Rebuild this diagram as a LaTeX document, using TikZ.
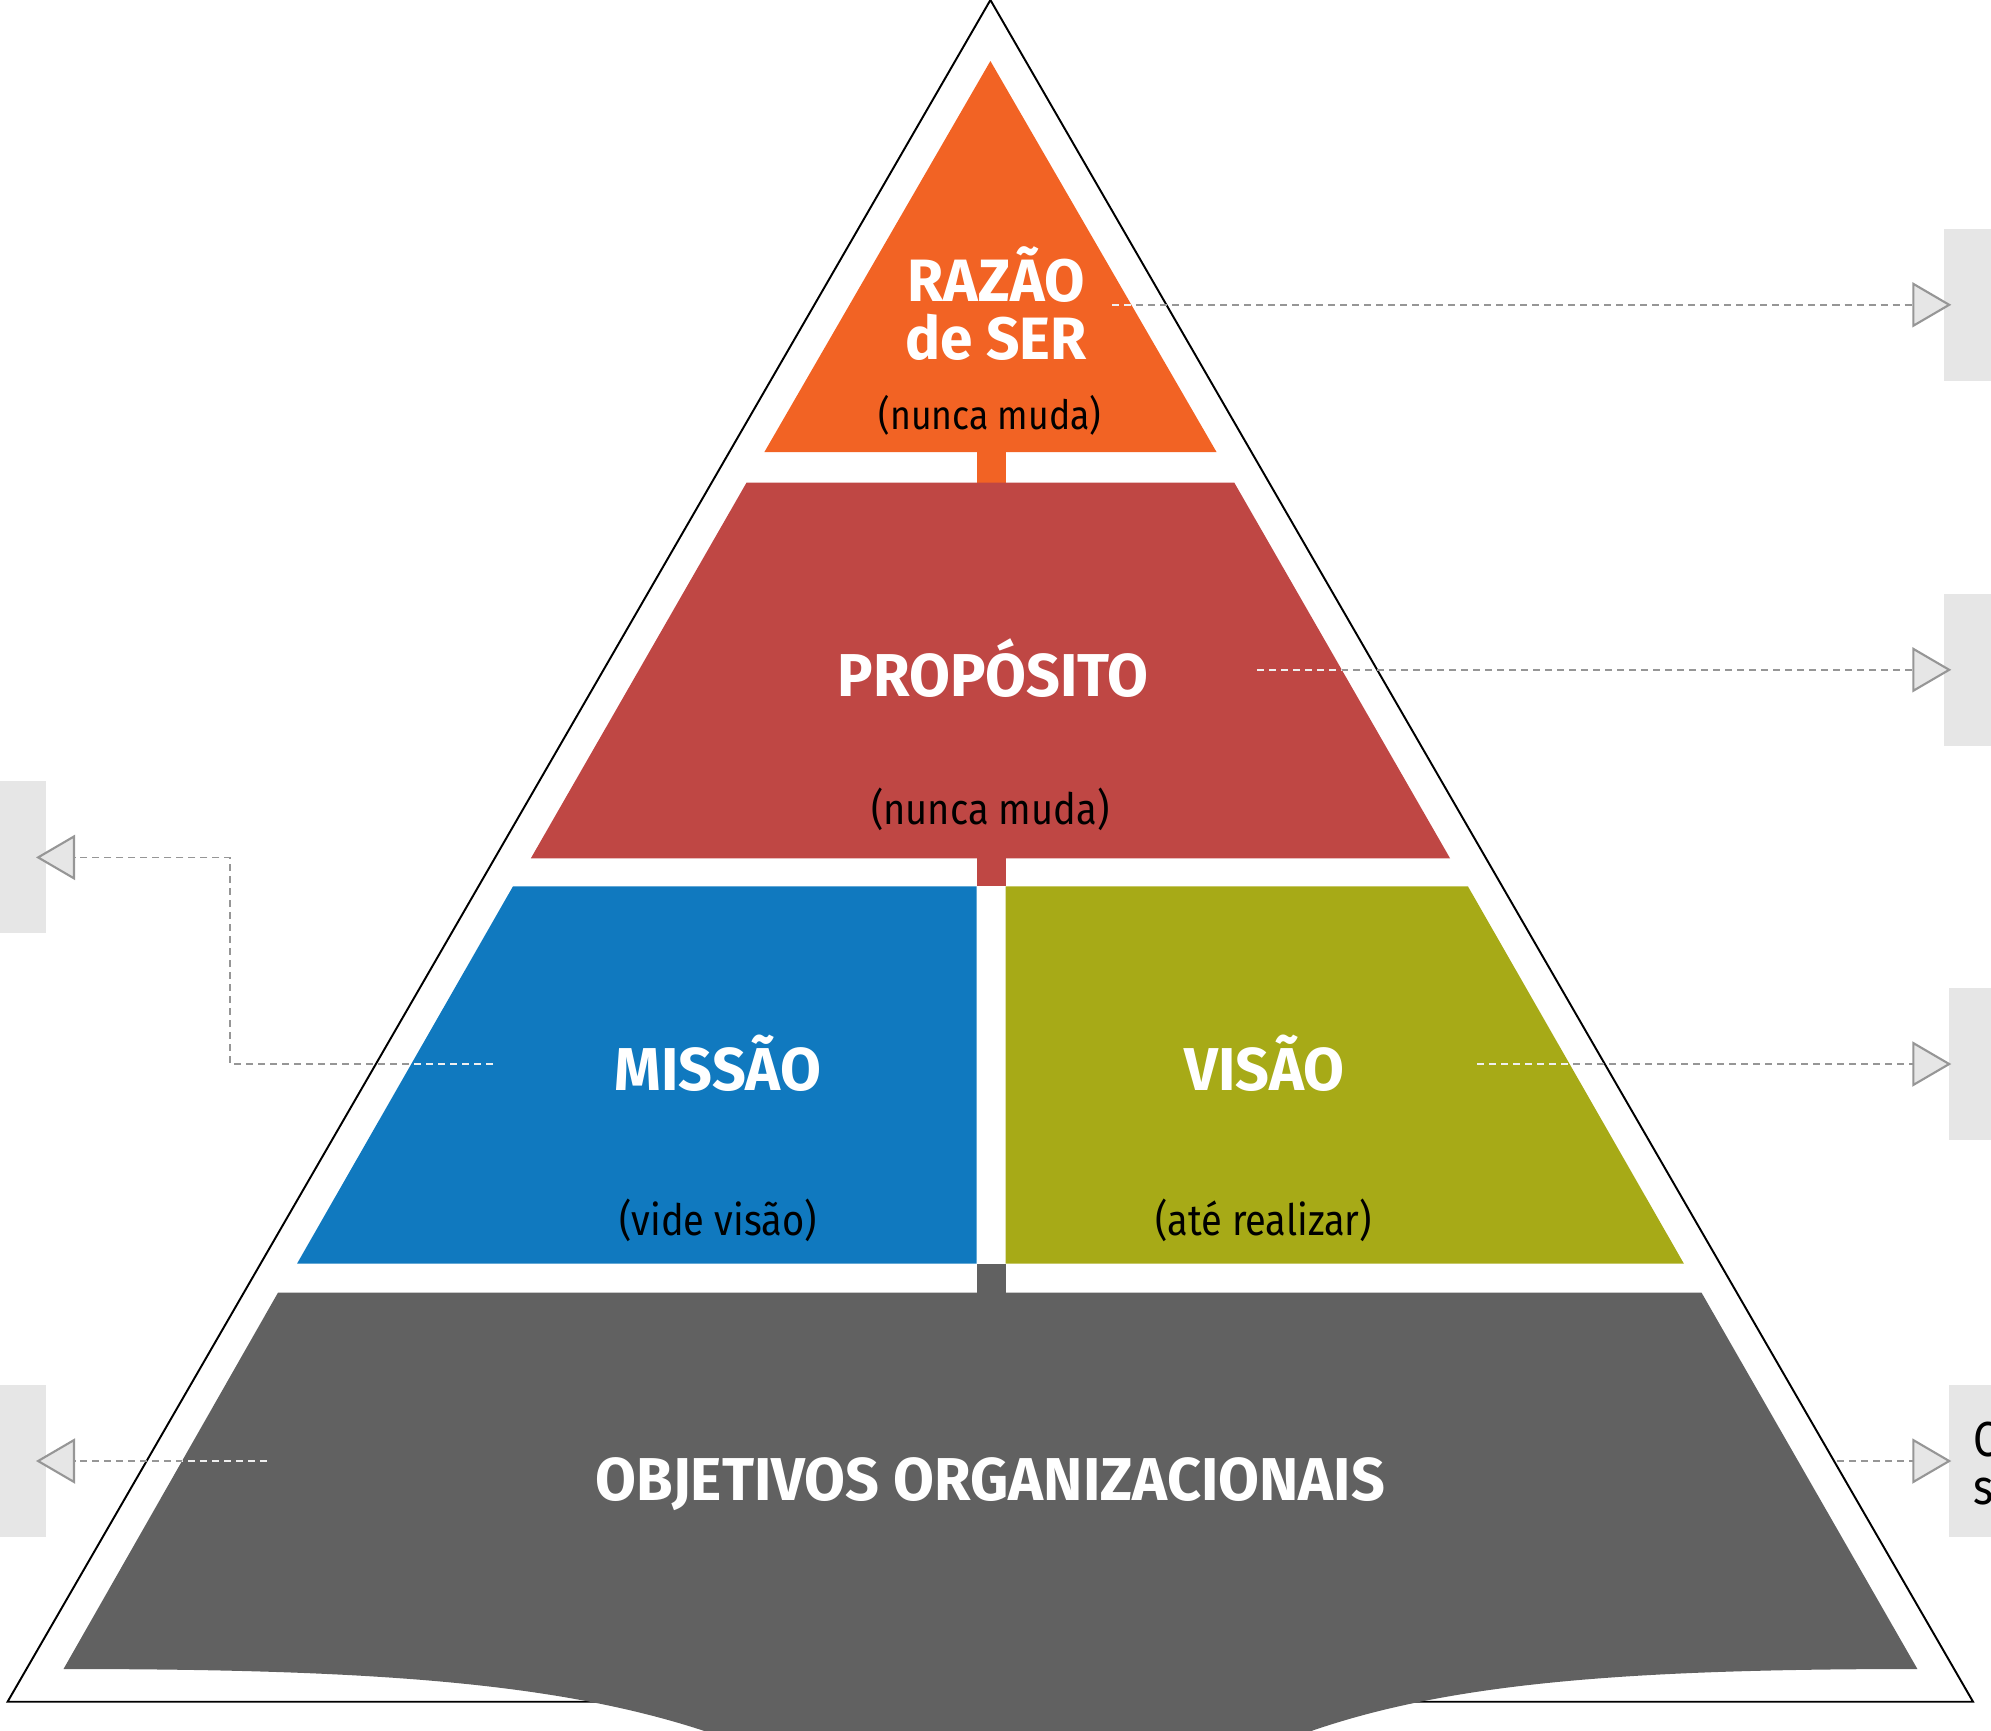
\documentclass[tikz,border=0pt]{standalone}
\usepackage{fontspec}
\usepackage{xcolor}
\usetikzlibrary{arrows.meta}

\newfontfamily\pyrfont[FakeStretch=0.88]{Fira Sans}
\newfontfamily\titlefont[FakeStretch=0.98]{Fira Sans}

\definecolor{razaoorange}{HTML}{F26324}
\definecolor{propositored}{HTML}{BF4744}
\definecolor{missaoblue}{HTML}{1079BF}
\definecolor{visaogreen}{HTML}{A7AA17}
\definecolor{objgray}{HTML}{616161}
\definecolor{sidegray}{HTML}{E6E6E6}
\definecolor{linkgray}{HTML}{969696}

\begin{document}
\begin{tikzpicture}[
    x=0.01cm, y=-0.01cm,
    title/.style={font=\titlefont\bfseries\fontsize{17.2pt}{18pt}\selectfont, text=white, inner sep=0pt, anchor=base},
    note/.style={font=\pyrfont\fontsize{12.3pt}{14pt}\selectfont, text=black, inner sep=0pt, anchor=base},
    sidebox/.style={rectangle, fill=sidegray, minimum width=0.47cm, minimum height=1.52cm, inner sep=0pt},
    link/.style={-{Triangle[length=0.39cm, width=0.45cm, fill=sidegray, line width=0.6pt]}, draw=linkgray, line width=0.45pt, dash pattern=on 0.07cm off 0.05cm},
    linkover/.style={draw=white!85!linkgray, line width=0.45pt, dash pattern=on 0.07cm off 0.05cm}
]
\clip (0,0) rectangle (1991,1730);

% Pyramid outline
\draw[line width=0.55pt] (990.4,0) -- (7.6,1701.7) -- (1973,1701.7) -- cycle;

% Side boxes
\node[sidebox] (boxR1) at (1967.5,304.8) {};
\node[sidebox] (boxR2) at (1967.5,669.8) {};
\node[sidebox] (boxR3) at (1972.5,1064) {};
\node[sidebox] (boxR4) at (1972.5,1461) {};
\node[sidebox] (boxL1) at (22.8,857.4) {};
\node[sidebox] (boxL2) at (22.8,1461) {};
\node[anchor=north west, inner sep=0pt, align=left, font=\pyrfont\fontsize{14pt}{13.4pt}\selectfont] (boxR4text) at (1973,1421.7) {C\\s};

% Connector ends
\coordinate (razaoOut) at (1112,304.8);
\coordinate (propositoOut) at (1257,669.8);
\coordinate (visaoOut) at (1477,1064);
\coordinate (objRightOut) at (1837,1461);
\coordinate (missaoOut) at (493,1064);
\coordinate (missaoBend) at (230,1064);
\coordinate (objLeftOut) at (267,1461);

% Connectors
\draw[link] (razaoOut) -- ([xshift=0.08cm]boxR1.west);
\draw[link] (propositoOut) -- ([xshift=0.08cm]boxR2.west);
\draw[link] (visaoOut) -- ([xshift=0.03cm]boxR3.west);
\draw[link] (objRightOut) -- ([xshift=0.03cm]boxR4.west);
\draw[link] (missaoOut) -- (missaoBend) |- ([xshift=-0.11cm]boxL1.east);
\draw[link] (objLeftOut) -- ([xshift=-0.11cm]boxL2.east);

% Razao de ser
\fill[razaoorange, path picture={\draw[linkover] (razaoOut) -- ([xshift=0.08cm]boxR1.west);}]
    (990.4,61) -- (1216.5,452) -- (764.4,452) -- cycle;
\fill[razaoorange] (976.5,452) rectangle (1005.7,482.5);

% Proposito
\fill[propositored, path picture={\draw[linkover] (propositoOut) -- ([xshift=0.08cm]boxR2.west);}]
    (746.6,482.5) -- (1234.2,482.5) -- (1450.1,858.4) -- (530.8,858.4) -- cycle;
\fill[propositored] (976.5,858.4) rectangle (1005.7,886.3);

% Missao and Visao
\fill[missaoblue, path picture={\draw[linkover] (missaoOut) -- (missaoBend) |- ([xshift=-0.11cm]boxL1.east);}]
    (513,886.3) -- (976.5,886.3) -- (976.5,1263.5) -- (297.1,1263.5) -- cycle;
\fill[visaogreen, path picture={\draw[linkover] (visaoOut) -- ([xshift=0.03cm]boxR3.west);}]
    (1005.7,886.3) -- (1467.9,886.3) -- (1683.8,1263.5) -- (1005.7,1263.5) -- cycle;
\fill[objgray] (976.5,1263.5) rectangle (1005.7,1292.6);

% Objetivos
\fill[objgray, path picture={\draw[linkover] (objLeftOut) -- ([xshift=-0.11cm]boxL2.east);}]
    (278,1292.6) -- (1701.5,1292.6) -- (1917.4,1669)
    .. controls (1560,1669) and (1375,1690) .. (1220,1770) -- (820,1780)
    .. controls (650,1690) and (450,1669) .. (63.5,1669) -- cycle;

% Labels
\node[title, anchor=south, align=center, font=\titlefont\bfseries\fontsize{17pt}{16.4pt}\selectfont] (razao) at (996,361) {RAZÃO\\de SER};
\node[note, font=\pyrfont\fontsize{11.5pt}{14pt}\selectfont] (razaoNote) at (990,429) {(nunca muda)};
\node[title] (proposito) at (993.3,696.7) {PROPÓSITO};
\node[note] (propositoNote) at (990.3,824) {(nunca muda)};
\node[title] (missao) at (718,1090) {MISSÃO};
\node[note] (missaoNote) at (718,1235) {(vide visão)};
\node[title] (visao) at (1264.7,1090) {VISÃO};
\node[note] (visaoNote) at (1263.5,1235) {(até realizar)};
\node[title] (objetivos) at (990.4,1500) {OBJETIVOS ORGANIZACIONAIS};

\end{tikzpicture}
\end{document}
